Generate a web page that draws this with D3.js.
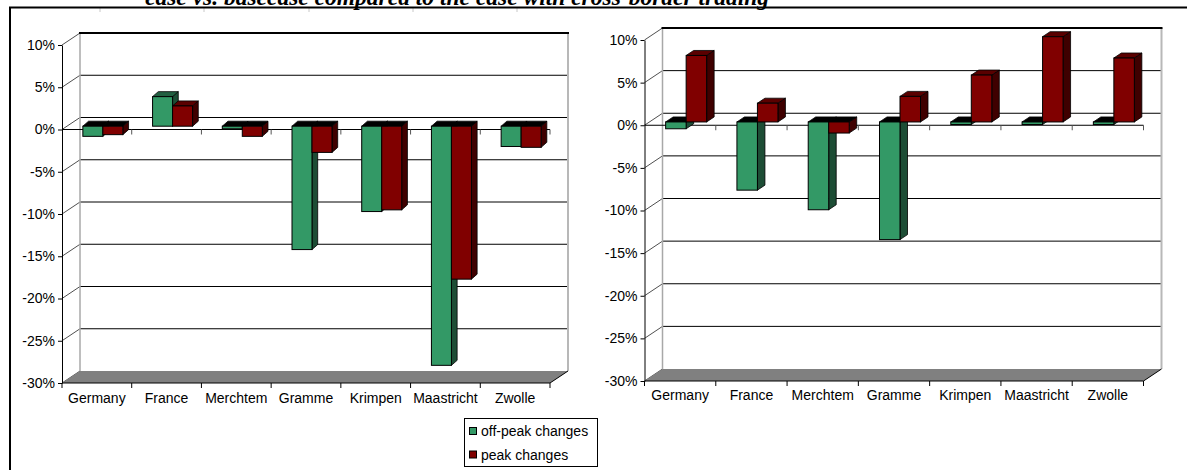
<!DOCTYPE html>
<html>
<head>
<meta charset="utf-8">
<script src="https://cdn.jsdelivr.net/npm/d3@7"></script>
<style>
  html, body { margin: 0; padding: 0; background: #ffffff; }
  svg { display: block; }
  text { font-family: "Liberation Sans", Arial, sans-serif; }
</style>
</head>
<body>
<svg id="chart" width="1187" height="470"></svg>
<script>
// Locations shown on both category axes
const categories = ["Germany", "France", "Merchtem", "Gramme", "Krimpen", "Maastricht", "Zwolle"];

// Left panel: relative price changes (%)
const leftOffPeak = [-1.2, 3.5, -0.3, -14.6, -10.1, -28.3, -2.4];
const leftPeak    = [-1.0, 2.4, -1.2, -3.1, -9.9, -18.1, -2.5];

// Right panel: relative price changes (%)
const rightOffPeak = [-0.8, -8.0, -10.3, -13.8, -0.3, -0.3, -0.3];
const rightPeak    = [7.8, 2.2, -1.3, 3.0, 5.5, 10.0, 7.5];

// Value axis ticks
const yTicks = [10, 5, 0, -5, -10, -15, -20, -25, -30];
const yTickLabels = ["10%", "5%", "0%", "-5%", "-10%", "-15%", "-20%", "-25%", "-30%"];

// Series names for the legend
const seriesNames = ["off-peak changes", "peak changes"];

const svg = d3.select("#chart");

const colors = {
  green: { front: "#339966", side: "#1d4d35", top: "#225f41" },
  red:   { front: "#800000", side: "#3f0000", top: "#5a0000" }
};

// Caption line of the page, running off the top edge
svg.append("text")
  .attr("x", 145).attr("y", 4.5)
  .style("font-family", "'Liberation Serif', 'Times New Roman', serif")
  .style("font-weight", "bold").style("font-style", "italic")
  .style("font-size", "23.5px").attr("fill", "#000")
  .text("ease vs. basecase compared to the case with cross-border trading");

// page frame
[100, 204, 309, 413, 517].forEach(x => {
  svg.append("line").attr("x1", x).attr("x2", x).attr("y1", 8).attr("y2", 12)
    .attr("stroke", "#c8c8c8").attr("stroke-width", 1);
});
svg.append("line").attr("x1", 9).attr("x2", 1187).attr("y1", 7.5).attr("y2", 7.5)
  .attr("stroke", "#000").attr("stroke-width", 2);
svg.append("line").attr("x1", 10).attr("x2", 10).attr("y1", 7).attr("y2", 470)
  .attr("stroke", "#000").attr("stroke-width", 2);

function drawPanel(cfg, offPeak, peak) {
  const g = svg.append("g");
  const DX = 18, DY = -12;          // depth of the chart box
  const PX = 6, PY = -3.3;          // plane in which the bars stand
  const y = d3.scaleLinear().domain([-30, 10]).range([cfg.yBot, cfg.yTop]);
  const x = d3.scaleBand().domain(categories).range([cfg.x0, cfg.x1]).padding(0);
  const bounds = categories.map(c => x(c)).concat([cfg.x1]);

  // back wall
  g.append("rect")
    .attr("x", cfg.x0 + DX).attr("y", cfg.yTop + DY)
    .attr("width", cfg.x1 - cfg.x0).attr("height", cfg.yBot - cfg.yTop)
    .attr("fill", "#ffffff");

  // gridlines on the back wall
  g.selectAll(".grid").data(yTicks.filter(v => v > -30 && v < 10)).join("line")
    .attr("x1", cfg.x0 + DX).attr("x2", cfg.x1 + DX)
    .attr("y1", d => y(d) + DY).attr("y2", d => y(d) + DY)
    .attr("stroke", "#000").attr("stroke-width", 1);

  // gridlines on the side wall
  g.selectAll(".side").data(yTicks).join("line")
    .attr("x1", cfg.x0).attr("y1", d => y(d))
    .attr("x2", cfg.x0 + DX).attr("y2", d => y(d) + DY)
    .attr("stroke", "#222").attr("stroke-width", 0.8);

  // wall edges
  g.append("line").attr("x1", cfg.x0 + DX).attr("x2", cfg.x0 + DX)
    .attr("y1", cfg.yTop + DY).attr("y2", cfg.yBot + DY)
    .attr("stroke", "#a8a8a8").attr("stroke-width", 1.5);
  g.append("line").attr("x1", cfg.x1 + DX).attr("x2", cfg.x1 + DX)
    .attr("y1", cfg.yTop + DY).attr("y2", cfg.yBot + DY)
    .attr("stroke", "#b8b8b8").attr("stroke-width", 2);
  g.append("line").attr("x1", cfg.x0 + DX - 1).attr("x2", cfg.x1 + DX + 1)
    .attr("y1", cfg.yTop + DY).attr("y2", cfg.yTop + DY)
    .attr("stroke", "#000").attr("stroke-width", 2);

  // floor
  const yf = y(-30);
  g.append("path")
    .attr("d", `M${cfg.x0},${yf}L${cfg.x1},${yf}L${cfg.x1 + DX},${yf + DY}L${cfg.x0 + DX},${yf + DY}Z`)
    .attr("fill", "#808080");
  g.append("line").attr("x1", cfg.x1).attr("y1", yf).attr("x2", cfg.x1 + DX).attr("y2", yf + DY)
    .attr("stroke", "#000").attr("stroke-width", 1);

  // category axis along the front of the floor
  g.append("line").attr("x1", cfg.x0).attr("x2", cfg.x1).attr("y1", yf).attr("y2", yf)
    .attr("stroke", "#000").attr("stroke-width", 1);
  g.selectAll(".ctick").data(bounds).join("line")
    .attr("x1", d => d).attr("x2", d => d).attr("y1", yf).attr("y2", yf + 5)
    .attr("stroke", "#000").attr("stroke-width", 1);

  const xAxis = g.append("g").attr("transform", `translate(0,${yf})`)
    .call(d3.axisBottom(x).tickSize(0).tickPadding(cfg.labelPad));
  xAxis.select(".domain").remove();
  xAxis.selectAll("text").style("font-size", "14px").attr("fill", "#000")
    .style("font-family", "'Liberation Sans', Arial, sans-serif");

  // zero line with category ticks
  const y0 = y(0);
  g.append("line").attr("x1", cfg.x0).attr("x2", cfg.x1).attr("y1", y0).attr("y2", y0)
    .attr("stroke", "#000").attr("stroke-width", 1);
  g.selectAll(".ztick").data(bounds.slice(1)).join("line")
    .attr("x1", d => d).attr("x2", d => d).attr("y1", y0).attr("y2", y0 + 5)
    .attr("stroke", "#555").attr("stroke-width", 1);

  // value axis
  const yAxis = g.append("g").attr("transform", `translate(${cfg.x0},0)`)
    .call(d3.axisLeft(y).tickValues(yTicks)
      .tickFormat((d, i) => yTickLabels[i]).tickSize(4).tickSizeOuter(0).tickPadding(3));
  yAxis.select(".domain").attr("stroke", "#000");
  yAxis.selectAll(".tick line").attr("stroke", "#000");
  yAxis.selectAll("text").style("font-size", "14px").attr("fill", "#000")
    .style("font-family", "'Liberation Sans', Arial, sans-serif");

  // 3D columns
  const bw = cfg.barW, bdx = cfg.barDx, bdy = -5;
  function column(cx, v, col) {
    const yTop = y(Math.max(v, 0)) + PY;
    const yBot = y(Math.min(v, 0)) + PY;
    const x0 = cx + PX, x1 = x0 + bw;
    const topFill = v >= 0 ? col.top : "#000";
    g.append("path")
      .attr("d", `M${x1},${yTop}L${x1 + bdx},${yTop + bdy}L${x1 + bdx},${yBot + bdy}L${x1},${yBot}Z`)
      .attr("fill", col.side).attr("stroke", "#000").attr("stroke-width", 0.8);
    g.append("path")
      .attr("d", `M${x0},${yTop}L${x0 + bdx},${yTop + bdy}L${x1 + bdx},${yTop + bdy}L${x1},${yTop}Z`)
      .attr("fill", topFill).attr("stroke", "#000").attr("stroke-width", 0.8);
    g.append("rect").attr("x", x0).attr("y", yTop).attr("width", bw).attr("height", Math.max(yBot - yTop, 0.5))
      .attr("fill", col.front).attr("stroke", "#000").attr("stroke-width", 1);
  }
  categories.forEach((c, i) => {
    const center = x(c) + x.bandwidth() / 2;
    column(center - bw, offPeak[i], colors.green);
    column(center, peak[i], colors.red);
  });
}

drawPanel({ x0: 62, x1: 550, yTop: 45, yBot: 383, barW: 20, barDx: 5.7, labelPad: 10 }, leftOffPeak, leftPeak);
drawPanel({ x0: 644.5, x1: 1143.5, yTop: 40, yBot: 381, barW: 20.5, barDx: 7.5, labelPad: 9 }, rightOffPeak, rightPeak);

// legend
const lg = svg.append("g");
lg.append("rect").attr("x", 464.5).attr("y", 418.5).attr("width", 133).attr("height", 48)
  .attr("fill", "#fff").attr("stroke", "#000").attr("stroke-width", 1);
seriesNames.forEach((name, i) => {
  const col = i === 0 ? colors.green : colors.red;
  lg.append("rect").attr("x", 469.5).attr("y", 427.5 + i * 23.5).attr("width", 7).attr("height", 7)
    .attr("fill", col.front).attr("stroke", "#000").attr("stroke-width", 1);
  lg.append("text").attr("x", 481).attr("y", 436 + i * 23.5)
    .style("font-size", "14px").attr("fill", "#000").text(name);
});
</script>
</body>
</html>
